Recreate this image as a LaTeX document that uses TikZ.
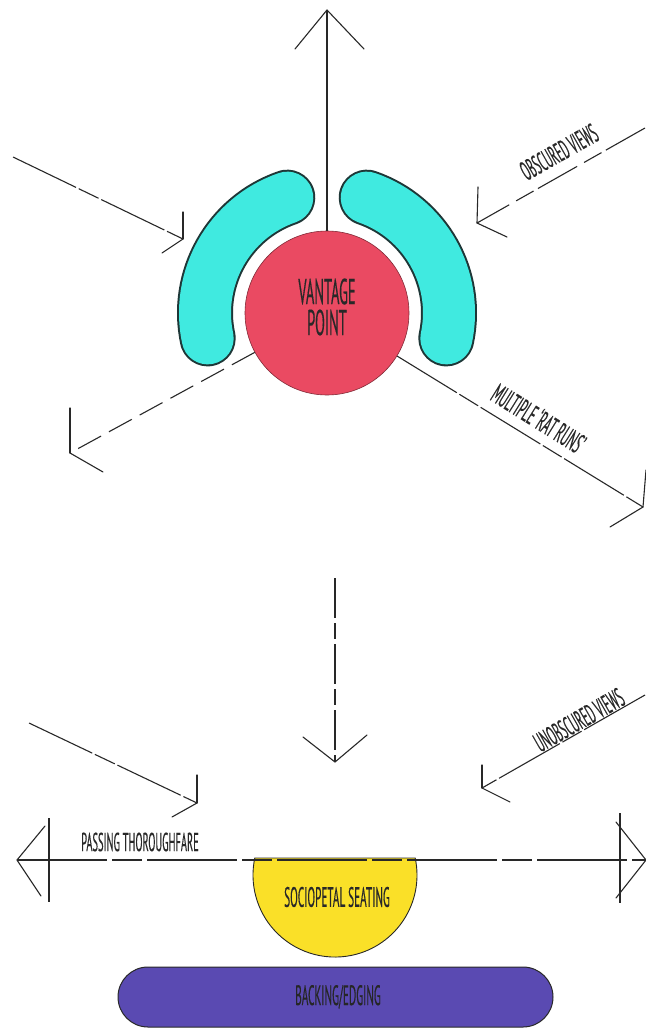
\documentclass[tikz,border=0pt]{standalone}
\usepackage{fontspec}
\newfontfamily\hand[FakeStretch=0.40,FakeBold=0.3]{PT Sans}
\usetikzlibrary{calc}
\definecolor{ink}{RGB}{40,40,40}
\definecolor{bandfill}{RGB}{64,234,224}
\definecolor{bandedge}{RGB}{30,55,55}
\definecolor{vpred}{RGB}{234,74,98}
\definecolor{seatyellow}{RGB}{250,224,40}
\definecolor{backpurple}{RGB}{90,74,178}
\begin{document}
\begin{tikzpicture}[x=1pt,y=-1pt,
  inkline/.style={draw=ink, line width=1.1pt},
  sketch/.style={inkline, dash pattern=on 70pt off 3pt on 22pt off 3pt},
  barb/.style={inkline, line cap=round},
  lbl/.style={text=ink, inner sep=0pt},
  bandout/.style={line width=56pt, draw=bandedge, line cap=round},
  bandin/.style={line width=52pt, draw=bandfill, line cap=round},
]
\useasboundingbox (0,0) rectangle (645,1033);
\fill[white] (0,0) rectangle (645,1033);

% ---------- upper diagram ----------
\coordinate (c) at (327,313);
% cyan bands
\draw[bandout] ($(c)+(-109:122)$) arc[start angle=-109, end angle=-192, radius=122];
\draw[bandin]  ($(c)+(-109:122)$) arc[start angle=-109, end angle=-192, radius=122];
\draw[bandout] ($(c)+(-71:122)$) arc[start angle=-71, end angle=12, radius=122];
\draw[bandin]  ($(c)+(-71:122)$) arc[start angle=-71, end angle=12, radius=122];

% vantage point
\node[circle, minimum size=164pt, inner sep=0pt, fill=vpred, draw=vpred!55!black, line width=0.6pt] (vp) at (c) {};
\node[lbl, align=center, font=\hand\fontsize{36}{31}\selectfont] (vptext) at (327,307) {VANTAGE\\POINT};

% arrow tips and tails
\coordinate (T1) at (327,10);
\coordinate (A2) at (13,157);  \coordinate (T2) at (183,239);
\coordinate (A3) at (645,128); \coordinate (T3) at (477,223);
\coordinate (T4) at (70,453);
\coordinate (T5) at (643,507);

\draw[inkline] (vp) -- (T1);
\draw[barb] (T1) -- ++(-32,39);
\draw[barb] (T1) -- ++(37,39);

\draw[sketch] (A2) -- (T2);
\draw[barb] (T2) -- ++(0,-27);
\draw[barb] (T2) -- ++(-21,14);

\draw[inkline, dash pattern=on 45pt off 5pt on 20pt off 8pt] (A3) -- (T3);
\draw[barb] (T3) -- ++(1,-36);
\draw[barb] (T3) -- ++(30,14);

\draw[inkline, dash pattern=on 26pt off 9pt] (vp) -- (T4);
\draw[barb] (T4) -- ++(0,-45);
\draw[barb] (T4) -- ++(33,19);

\draw[sketch] (vp) -- (T5);
\draw[barb] (T5) -- ++(-33,20);
\draw[barb] (T5) -- ++(3,-37);

\node[lbl, rotate=29.5, font=\hand\fontsize{27}{27}\selectfont] (obs) at (559,152) {OBSCURED VIEWS};
\node[lbl, rotate=-32, font=\hand\fontsize{28}{28}\selectfont] (rat) at (539,418) {MULTIPLE ‘RAT RUNS’};

% ---------- lower diagram ----------
% sociopetal seating
\draw[fill=seatyellow, draw=ink, line width=0.9pt]
  (415.2,858) arc[start angle=-12, end angle=192, radius=82] -- cycle;
\node[lbl, font=\hand\fontsize{28}{28}\selectfont] (seat) at (337,897) {SOCIOPETAL SEATING};

% backing / edging
\node[minimum width=435pt, minimum height=60pt, rounded corners=30pt, fill=backpurple,
      draw=ink, line width=1pt, inner sep=0pt] (back) at (335.5,997) {};
\node[lbl, text=black!85, font=\hand\fontsize{28}{28}\selectfont] (backtext) at (338,997) {BACKING/EDGING};

% passing thoroughfare
\coordinate (T9) at (17,860);
\coordinate (T10) at (646,860);
\coordinate (K1a) at (49,818); \coordinate (K1b) at (49,902);
\coordinate (K2a) at (620,813); \coordinate (K2b) at (620,903);
\draw[inkline, dash pattern=on 90pt off 5pt on 30pt off 5pt] (T9) -- (T10);
\draw[inkline] (K1a) -- (K1b);
\draw[inkline] (K2a) -- (K2b);
\draw[barb] (T9) -- ++(28,-34);
\draw[barb] (T9) -- ++(24,36);
\draw[barb] (T10) -- ++(-30,-38);
\draw[barb] (T10) -- ++(-30,38);
\node[lbl, font=\hand\fontsize{26}{26}\selectfont] (pass) at (140,842) {PASSING THOROUGHFARE};

% incoming views
\coordinate (A6) at (335,578); \coordinate (T6) at (335,762);
\coordinate (A7) at (29,723);  \coordinate (T7) at (197,803);
\coordinate (A8) at (645,695); \coordinate (T8) at (482,788);

\draw[inkline, dash pattern=on 40pt off 5pt on 16pt off 5pt] (A6) -- (T6);
\draw[barb] (T6) -- ++(-32,-25);
\draw[barb] (T6) -- ++(32,-27);

\draw[sketch] (A7) -- (T7);
\draw[barb] (T7) -- ++(0,-28);
\draw[barb] (T7) -- ++(-25,14);

\draw[sketch] (A8) -- (T8);
\draw[barb] (T8) -- ++(0,-23);
\draw[barb] (T8) -- ++(28,14);

\node[lbl, rotate=29.7, font=\hand\fontsize{27}{27}\selectfont] (unobs) at (579,720) {UNOBSCURED VIEWS};
\end{tikzpicture}
\end{document}
